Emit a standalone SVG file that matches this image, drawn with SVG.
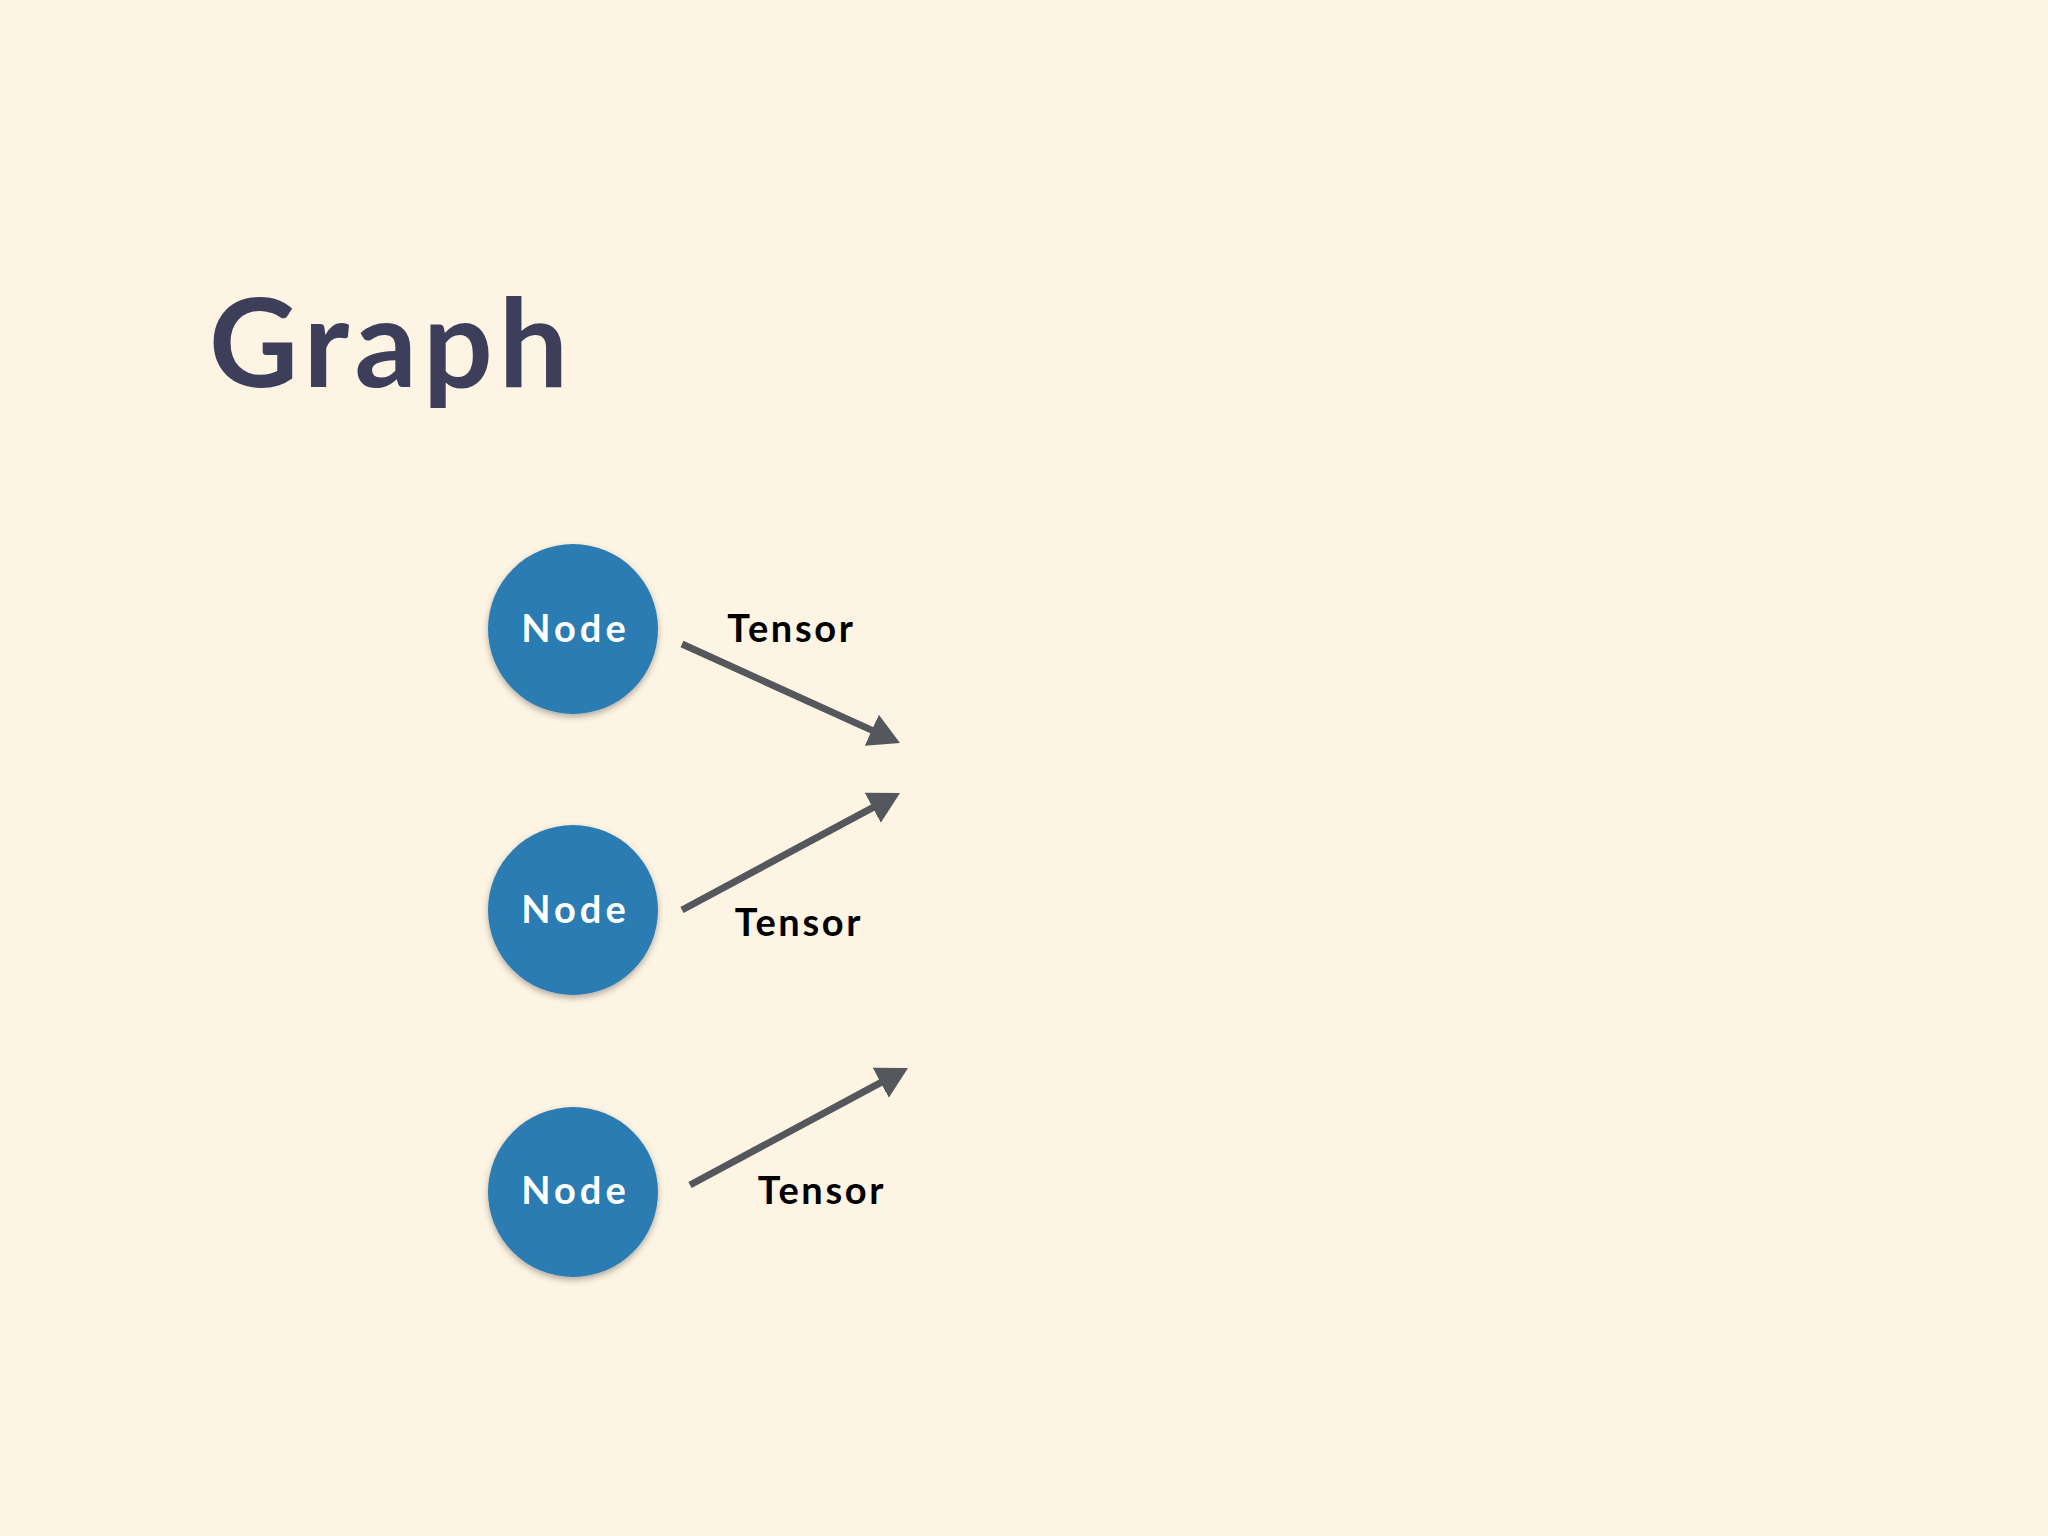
<svg xmlns="http://www.w3.org/2000/svg" width="2048" height="1536" viewBox="0 0 2048 1536">
<defs>
<style>
.title{font-family:Lato,"Open Sans","Liberation Sans",sans-serif;font-weight:700;font-size:123px;fill:#3d3f5a;letter-spacing:6px}
.node circle{fill:#2c7bb2;filter:url(#sh)}
.node text{font-family:Lato,"Open Sans","Liberation Sans",sans-serif;font-weight:700;font-size:38px;fill:#ffffff;text-anchor:middle;letter-spacing:4px}
.lbl{font-family:Lato,"Open Sans","Liberation Sans",sans-serif;font-weight:700;font-size:38px;fill:#000000;text-anchor:middle;letter-spacing:2.6px}
.edge{stroke:#54575c;stroke-width:7;fill:none;marker-end:url(#ah)}
</style>
<filter id="sh" x="-20%" y="-20%" width="140%" height="150%">
<feDropShadow dx="0" dy="3" stdDeviation="3" flood-color="#000" flood-opacity="0.3"/>
</filter>
<marker id="ah" markerUnits="userSpaceOnUse" markerWidth="34" markerHeight="36" viewBox="0 -18 34 36" refX="1" refY="0" orient="auto">
<path d="M0,-17 L31,0 L0,17 z" fill="#54575c"/>
</marker>
</defs>
<rect width="2048" height="1536" fill="#fef4e3"/>
<text class="title" x="209" y="387">Graph</text>
<g id="node1" class="node"><circle cx="573" cy="629" r="85"/><text x="575.5" y="642">Node</text></g>
<g id="node2" class="node"><circle cx="573" cy="910" r="85"/><text x="575.5" y="923">Node</text></g>
<g id="node3" class="node"><circle cx="573" cy="1192" r="85"/><text x="575.5" y="1204">Node</text></g>
<g id="connectors">
<line class="edge" x1="682" y1="644" x2="872.7" y2="730.6"/>
<line class="edge" x1="682" y1="910" x2="873.6" y2="807.2"/>
<line class="edge" x1="690" y1="1185" x2="881.6" y2="1082.2"/>
</g>
<g id="labels">
<text class="lbl" x="791.3" y="642">Tensor</text>
<text class="lbl" x="798.8" y="936">Tensor</text>
<text class="lbl" x="821.8" y="1204">Tensor</text>
</g>
</svg>
